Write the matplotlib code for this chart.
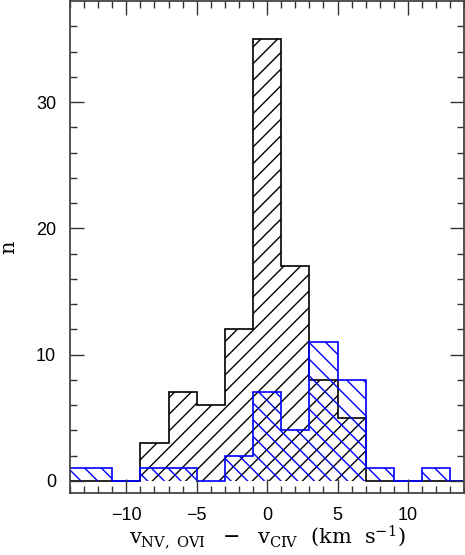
import matplotlib
matplotlib.use('Agg')
import matplotlib.pyplot as plt
import numpy as np

# bin edges (km/s), bins of width 2 centred on even values
bin_edges = np.arange(-15, 16, 2)
# counts per bin
counts_black = [0, 0, 0, 3, 7, 6, 12, 35, 17, 8, 5, 0, 0, 0, 0]
counts_blue = [1, 1, 0, 1, 1, 0, 2, 7, 4, 11, 8, 1, 0, 1, 0]

x_major = [-10, -5, 0, 5, 10]
y_major = [0, 10, 20, 30]

plt.rcParams['hatch.linewidth'] = 1.0
plt.rcParams['mathtext.fontset'] = 'dejavuserif'

fig = plt.figure(figsize=(4.65, 5.55), dpi=100)
ax = fig.add_axes([0.1505, 0.111, 0.848, 0.887])

ax.stairs(counts_black, bin_edges, fill=True, facecolor='none',
          edgecolor='black', hatch='//', linewidth=1.2)
ax.stairs(counts_blue, bin_edges, fill=True, facecolor='none',
          edgecolor='#0000ff', hatch='\\\\', linewidth=1.2)

ax.set_xlim(-14, 14)
ax.set_ylim(-1, 38)

ax.set_xticks(x_major)
ax.set_xticks(np.arange(-14, 15, 1), minor=True)
ax.set_yticks(y_major)
ax.set_yticks(np.arange(0, 38, 2), minor=True)
ax.set_xticklabels(['\u221210', '\u22125', '0', '5', '10'])
ax.tick_params(which='both', direction='in', top=True, right=True,
               color='#333333', width=1.0)
ax.tick_params(which='major', length=10, pad=10, labelsize=13)
ax.tick_params(which='minor', length=5)
for lab in ax.get_xticklabels() + ax.get_yticklabels():
    lab.set_family('Liberation Sans')

for sp in ax.spines.values():
    sp.set_linewidth(1.3)
    sp.set_color('#444444')

ax.set_xlabel(r'$\mathrm{v_{NV,\ OVI}\ \ -\ \ v_{CIV}\ \ (km\ \ s^{-1})}$',
              fontsize=15, labelpad=0)
ax.set_ylabel('n', family='DejaVu Serif', fontsize=15, labelpad=13)

plt.savefig('out.png', dpi=100)
plt.close()
